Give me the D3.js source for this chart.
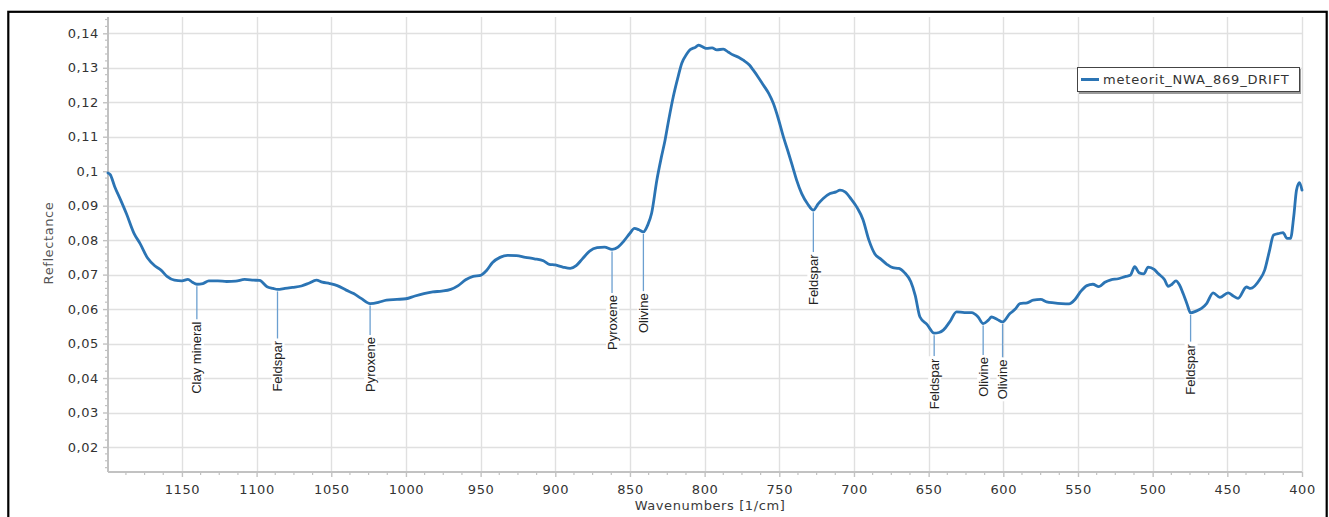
<!DOCTYPE html>
<html>
<head>
<meta charset="utf-8">
<script src="https://cdn.jsdelivr.net/npm/d3@7"></script>
<style>
  html, body { margin: 0; padding: 0; background: #ffffff; }
  svg { display: block; }
</style>
</head>
<body>
<svg id="chart" width="1329" height="517"></svg>
<script>
// ---------------- DATA ----------------
const seriesName = "meteorit_NWA_869_DRIFT";

const wavenumbers = [
  1199.5, 1198, 1195, 1191, 1187, 1182, 1178, 1173, 1168, 1164, 1160, 1155, 1150, 1146, 1143, 1140,
  1136, 1132, 1126, 1120, 1114, 1108, 1102, 1098, 1093, 1089, 1086, 1081, 1076, 1070, 1065, 1060,
  1056, 1051, 1046, 1040, 1035, 1030, 1024, 1018, 1013, 1006, 1000, 994, 988, 982, 976, 970,
  965, 960, 955, 950, 946, 942, 937, 932, 926, 920, 914, 908, 904, 900, 895, 890,
  886, 882, 877, 872, 867, 862, 858, 854, 850, 847, 844, 841, 838, 835.5, 832, 829,
  826.5, 824, 821, 818, 815.3, 812, 809.8, 806, 804.2, 801, 798.6, 795, 791.9, 787.5, 784, 780.8,
  777, 774.1, 770, 767.4, 764, 760.7, 757, 754, 750.5, 747.3, 744, 741, 738.4, 735, 731, 727.2,
  724, 720.6, 716, 712, 709.4, 706, 702, 698, 694, 690, 686, 682, 678, 674, 670, 666,
  662, 659, 655.8, 651, 646.3, 643, 640.2, 636, 631.3, 626, 621.2, 617, 613.5, 610, 607.9, 604,
  600.5, 595.6, 592, 588.9, 584, 580, 575, 571, 566, 561, 556, 552, 548, 544, 540, 536,
  532, 528, 523, 518, 515, 512, 509, 506, 503, 499, 496.3, 492, 489.6, 487, 484.4, 482,
  479.6, 477, 474.6, 471, 467.3, 463.9, 459.5, 455, 449.5, 446, 442.8, 437.2, 434.5, 428.3, 425, 422,
  419, 415, 412.7, 410, 407.7, 405.5, 403.7, 401.7, 400
];

const reflectance = [
  0.0995, 0.0990, 0.0955, 0.0916, 0.0875, 0.0819, 0.0790, 0.0748, 0.0725, 0.0713, 0.0695, 0.0684, 0.0682, 0.0686, 0.0678, 0.0672,
  0.0674, 0.0682, 0.0682, 0.0680, 0.0681, 0.0686, 0.0684, 0.0683, 0.0665, 0.0660, 0.0657, 0.0660, 0.0663, 0.0667, 0.0675, 0.0684,
  0.0678, 0.0674, 0.0668, 0.0655, 0.0645, 0.0631, 0.0616, 0.0620, 0.0626, 0.0628, 0.0630, 0.0638, 0.0645, 0.0650, 0.0652, 0.0657,
  0.0668, 0.0685, 0.0695, 0.0698, 0.0712, 0.0735, 0.0750, 0.0756, 0.0755, 0.0750, 0.0746, 0.0740, 0.0730, 0.0728, 0.0722, 0.0718,
  0.0726, 0.0745, 0.0768, 0.0778, 0.0780, 0.0773, 0.0780, 0.0798, 0.0820, 0.0834, 0.0830, 0.0824, 0.0845, 0.0878, 0.0974, 0.1040,
  0.1090, 0.1150, 0.1216, 0.1270, 0.1313, 0.1340, 0.1352, 0.1360, 0.1366, 0.1360, 0.1356, 0.1358, 0.1352, 0.1354, 0.1345, 0.1337,
  0.1330, 0.1322, 0.1308, 0.1293, 0.1272, 0.1250, 0.1225, 0.1197, 0.1150, 0.1100, 0.1055, 0.1012, 0.0974, 0.0935, 0.0905, 0.0887,
  0.0905, 0.0921, 0.0935, 0.0940, 0.0945, 0.0940, 0.0920, 0.0895, 0.0860, 0.0800, 0.0760, 0.0745, 0.0730, 0.0720, 0.0718, 0.0705,
  0.0680, 0.0640, 0.0577, 0.0555, 0.0530, 0.0532, 0.0539, 0.0562, 0.0592, 0.0590, 0.0590, 0.0578, 0.0558, 0.0568, 0.0577, 0.0570,
  0.0563, 0.0587, 0.0600, 0.0616, 0.0618, 0.0626, 0.0628, 0.0621, 0.0618, 0.0616, 0.0615, 0.0628, 0.0652, 0.0668, 0.0672, 0.0665,
  0.0678, 0.0685, 0.0688, 0.0695, 0.0698, 0.0723, 0.0705, 0.0702, 0.0722, 0.0715, 0.0703, 0.0685, 0.0666, 0.0672, 0.0682, 0.0670,
  0.0645, 0.0615, 0.0589, 0.0594, 0.0602, 0.0616, 0.0647, 0.0634, 0.0647, 0.0638, 0.0631, 0.0664, 0.0660, 0.0686, 0.0713, 0.0765,
  0.0815, 0.0820, 0.0822, 0.0805, 0.0805, 0.0870, 0.0945, 0.0967, 0.0945
];

const xTickValues = [1150, 1100, 1050, 1000, 950, 900, 850, 800, 750, 700, 650, 600, 550, 500, 450, 400];
const yTickValues = [0.02, 0.03, 0.04, 0.05, 0.06, 0.07, 0.08, 0.09, 0.10, 0.11, 0.12, 0.13, 0.14];

// band annotations: name, wavenumber, and reflectance at which the label is centred
const annotationNames = ["Clay mineral", "Feldspar", "Pyroxene", "Pyroxene", "Olivine", "Feldspar", "Feldspar", "Olivine", "Olivine", "Feldspar"];
const annotationWavenumbers = [1140, 1086, 1024, 862, 841, 727.2, 646.3, 613.5, 600.5, 474.6];
const annotationLabelAt = [0.0459, 0.0434, 0.0439, 0.0561, 0.0588, 0.0685, 0.0383, 0.0403, 0.0396, 0.0425];

const xTitle = "Wavenumbers [1/cm]";
const yTitle = "Reflectance";

// ---------------- LAYOUT ----------------
const svg = d3.select("#chart");
const W = 1329, H = 517;
const plot = { left: 108, right: 1302, top: 17, bottom: 472 };

const x = d3.scaleLinear().domain([1199.5, 400]).range([plot.left, plot.right]);
const y = d3.scaleLinear().domain([0.01274, 0.14473]).range([plot.bottom, plot.top]);

const fmt = d3.formatLocale({ decimal: ",", thousands: ".", grouping: [3], currency: ["", ""] }).format(".2~f");
const axisFont = "'DejaVu Sans', Verdana, sans-serif";
const labelFont = "'Liberation Sans', Arial, sans-serif";
const blue = "#2b74b4";

svg.append("rect").attr("width", W).attr("height", H).attr("fill", "#ffffff");

// outer frame
svg.append("rect")
  .attr("x", 8.3).attr("y", 11.8)
  .attr("width", 1326.7 - 8.3).attr("height", 540)
  .attr("fill", "none").attr("stroke", "#000").attr("stroke-width", 2.2);

// gridlines
const grid = svg.append("g");
grid.selectAll("line.h").data(yTickValues).join("line")
  .attr("x1", plot.left).attr("x2", plot.right)
  .attr("y1", d => Math.round(y(d)) + 0.5).attr("y2", d => Math.round(y(d)) + 0.5)
  .attr("stroke", "#e0e0e0").attr("stroke-width", 1.4);
grid.selectAll("line.v").data(xTickValues).join("line")
  .attr("y1", plot.top).attr("y2", plot.bottom)
  .attr("x1", d => Math.round(x(d)) + 0.5).attr("x2", d => Math.round(x(d)) + 0.5)
  .attr("stroke", "#e0e0e0").attr("stroke-width", 1.4);

// minor ticks
const xMinor = d3.range(1187.5, 399, -12.5).filter(v => xTickValues.indexOf(v) < 0);
const yMinor = d3.range(14, 145, 2).map(v => v / 1000).filter(v => !yTickValues.some(t => Math.abs(t - v) < 1e-9));

const xAxis = svg.append("g").attr("transform", `translate(0,${plot.bottom})`)
  .call(d3.axisBottom(x).tickValues(xTickValues).tickFormat(d3.format("d")).tickSize(5).tickSizeOuter(0).tickPadding(8));
const yAxis = svg.append("g").attr("transform", `translate(${plot.left},0)`)
  .call(d3.axisLeft(y).tickValues(yTickValues).tickFormat(fmt).tickSize(5).tickSizeOuter(0).tickPadding(4));

[xAxis, yAxis].forEach(g => {
  g.select(".domain").attr("stroke", "#c2c2c2").attr("stroke-width", 2);
  g.selectAll(".tick line").attr("stroke", "#c2c2c2").attr("stroke-width", 1.4);
  g.selectAll(".tick text").attr("fill", "#333").attr("font-family", axisFont)
    .attr("font-size", 13).attr("letter-spacing", "0.6px");
});
yAxis.select(".domain").attr("d", `M0,${plot.bottom}V${plot.top}`);
xAxis.select(".domain").attr("d", `M${plot.left},0H${plot.right}`);

xAxis.selectAll("line.minor").data(xMinor).join("line").attr("class", "minor")
  .attr("x1", d => x(d)).attr("x2", d => x(d)).attr("y1", 0).attr("y2", 3)
  .attr("stroke", "#c2c2c2").attr("stroke-width", 1.2);
yAxis.selectAll("line.minor").data(yMinor).join("line").attr("class", "minor")
  .attr("y1", d => y(d)).attr("y2", d => y(d)).attr("x1", 0).attr("x2", -3)
  .attr("stroke", "#c2c2c2").attr("stroke-width", 1.2);

// axis titles
svg.append("text").attr("x", 710).attr("y", 510).attr("text-anchor", "middle")
  .attr("font-family", axisFont).attr("font-size", 13).attr("letter-spacing", "0.6px")
  .attr("fill", "#3a3a3a").text(xTitle);
svg.append("text").attr("transform", "translate(53,243) rotate(-90)").attr("text-anchor", "middle")
  .attr("font-family", axisFont).attr("font-size", 13).attr("letter-spacing", "0.6px")
  .attr("fill", "#555").text(yTitle);

// series line
const pts = wavenumbers.map((w, i) => [w, reflectance[i]]);
const line = d3.line().x(d => x(d[0])).y(d => y(d[1])).curve(d3.curveMonotoneX);

// annotations (drawn under curve)
function valueAt(w) {
  for (let i = 0; i < pts.length - 1; i++) {
    const a = pts[i], b = pts[i + 1];
    if (w <= a[0] && w >= b[0]) {
      const t = (a[0] - w) / (a[0] - b[0]);
      return a[1] + t * (b[1] - a[1]);
    }
  }
  return pts[pts.length - 1][1];
}
const ann = svg.append("g");
annotationNames.forEach((name, i) => {
  const w = annotationWavenumbers[i];
  const px = x(w), py = y(valueAt(w));
  const cy = y(annotationLabelAt[i]);
  const g = ann.append("g");
  const t = g.append("text")
    .attr("transform", `translate(${px + 4.5},${cy}) rotate(-90)`)
    .attr("text-anchor", "middle")
    .attr("font-family", labelFont).attr("font-size", 13).attr("fill", "#222")
    .text(name);
  const bb = t.node().getBBox();
  const half = bb.width / 2;
  g.insert("rect", "text")
    .attr("x", px - 6).attr("y", cy - half - 2)
    .attr("width", 13).attr("height", bb.width + 4)
    .attr("fill", "#fff");
  g.insert("line", "rect")
    .attr("x1", px).attr("x2", px).attr("y1", py + 2).attr("y2", cy - half - 2)
    .attr("stroke", "#6b9fd0").attr("stroke-width", 1.3);
});

svg.append("path").datum(pts).attr("d", line)
  .attr("fill", "none").attr("stroke", blue).attr("stroke-width", 2.8)
  .attr("stroke-linejoin", "round").attr("stroke-linecap", "round");

// legend
const lg = svg.append("g");
lg.append("rect").attr("x", 1079).attr("y", 69).attr("width", 222).attr("height", 25).attr("fill", "#9a9a9a");
lg.append("rect").attr("x", 1077.5).attr("y", 67.5).attr("width", 222).attr("height", 24)
  .attr("fill", "#fff").attr("stroke", "#444").attr("stroke-width", 1);
lg.append("line").attr("x1", 1081).attr("x2", 1099).attr("y1", 79.5).attr("y2", 79.5)
  .attr("stroke", blue).attr("stroke-width", 3);
lg.append("text").attr("x", 1103).attr("y", 84).attr("font-family", axisFont)
  .attr("font-size", 13).attr("letter-spacing", "0.8px").attr("fill", "#333").text(seriesName);
</script>
</body>
</html>
